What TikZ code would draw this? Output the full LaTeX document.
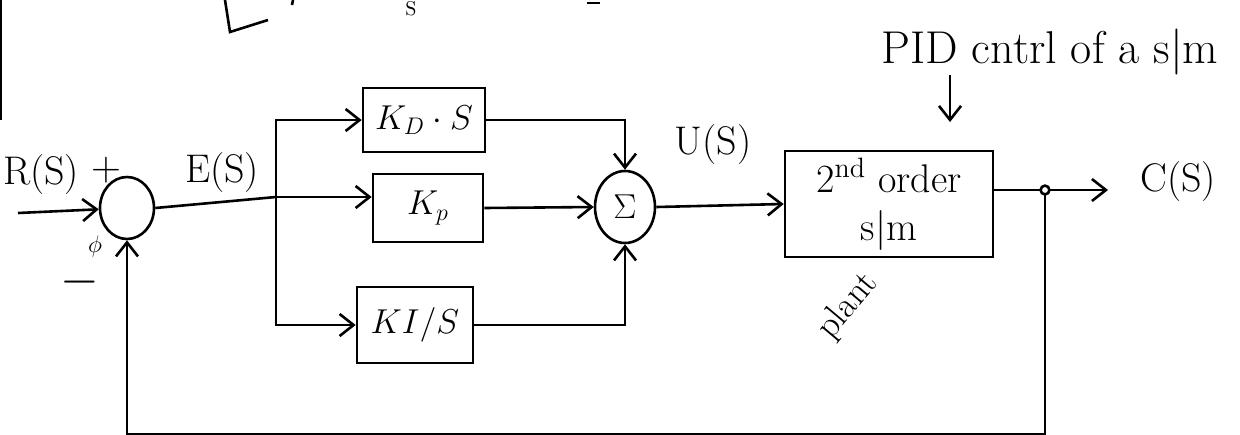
\documentclass[tikz,border=0pt]{standalone}
\usepackage{amsmath}
\usepackage{tikz}
\usetikzlibrary{shapes,arrows.meta,positioning,calc}
\tikzset{
  block/.style={
    draw,
    line width=1.3pt,
    rectangle,
    minimum height=33pt,
    minimum width=58pt,
    align=center,
    font=\fontsize{18}{22}\selectfont,
  },
  junction/.style={
    draw,
    line width=1.3pt,
    ellipse,
    inner sep=0pt,
    font=\fontsize{18}{22}\selectfont,
  },
  sig/.style={
    draw=black,
    line width=1.3pt,
    ->,
    >={Straight Barb[length=7pt,width=11pt]}
  },
  wire/.style={
    draw=black,
    line width=1.3pt
  },
  sigtext/.style={
    font=\fontsize{20}{24}\selectfont,
    inner sep=0pt
  }
}

\begin{document}
\begin{tikzpicture}[x=0.5pt, y=-0.5pt]
    \useasboundingbox (0,0) rectangle (1240,434);

    % comparator
    \node [junction, minimum width=27pt, minimum height=31pt] (sum1) at (127,208) {};
    \node [sigtext] (rs) at (41,175) {R(S)};
    \node [sigtext] (plus) at (106,170) {$+$};
    \node [sigtext, font=\fontsize{12}{14}\selectfont] (phimark) at (95,246) {$\phi$};
    \node [sigtext, font=\fontsize{30}{30}\selectfont] (minus) at (80,282) {$-$};
    \node [sigtext] (es) at (222,173) {E(S)};

    \coordinate (in) at (18,213);
    \coordinate (branch) at (276,197);
    \draw [sig] (in) -- (sum1);
    \draw [wire] (sum1.east) -- (branch);

    % PID blocks
    \node [block, minimum width=61pt, minimum height=32pt] (kd) at (424,120) {$K_D\cdot S$};
    \node [block, minimum width=55pt, minimum height=34pt] (kp) at (428,208) {$K_p$};
    \node [block, minimum width=58pt, minimum height=38pt] (ki) at (415,325) {$KI/S$};

    \draw [sig] (branch) |- (kd.west);
    \draw [sig] (branch) -- (branch -| kp.west);
    \draw [sig] (branch) |- (ki.west);

    \node [junction, minimum width=30pt, minimum height=36pt] (sum2) at (625,207) {$\Sigma$};

    \draw [sig] (kd.east) -| (sum2.north);
    \draw [sig] (kp.east) -- (sum2.west);
    \draw [sig] (ki.east) -| (sum2.south);

    % plant
    \node [sigtext] (us) at (713,145) {U(S)};
    \node [block, minimum width=104pt, minimum height=52pt, font=\fontsize{20}{24}\selectfont] (plant) at (889,204) {2\textsuperscript{nd} order\\s|m};
    \draw [sig] (sum2.east) -- (plant.west);
    \node [sigtext, rotate=50, font=\fontsize{18}{22}\selectfont] (plantlbl) at (848,306) {plant};

    \node [sigtext, font=\fontsize{23}{27}\selectfont] (title) at (1050,52) {PID cntrl of a s|m};
    \coordinate (titletip) at (950,122);
    \draw [sig] (title.south -| titletip) -- (titletip);

    % output and feedback
    \coordinate (pick) at (1045,190);
    \coordinate (outend) at (1108,190);
    \coordinate (fbl) at (127,434);
    \node [sigtext] (cs) at (1178,182) {C(S)};
    \draw [wire] (plant.east |- pick) -- (pick);
    \draw [sig] (pick) -- (outend);
    \draw [sig] (pick) |- (fbl) -- (sum1.south);
    \draw [wire, fill=white] (pick) circle [radius=2.2pt];

    % cut-off marks at the top edge
    \draw [wire] (225,0) -- (230,32) -- (268,20);
    \draw [wire] (293,0) -- (292,5);
    \node [sigtext, font=\fontsize{10}{12}\selectfont] (tops) at (411,9) {S};
    \draw [wire] (587,3) -- (600,3);
    \draw [wire] (1,0) -- (1,120);
\end{tikzpicture}
\end{document}
